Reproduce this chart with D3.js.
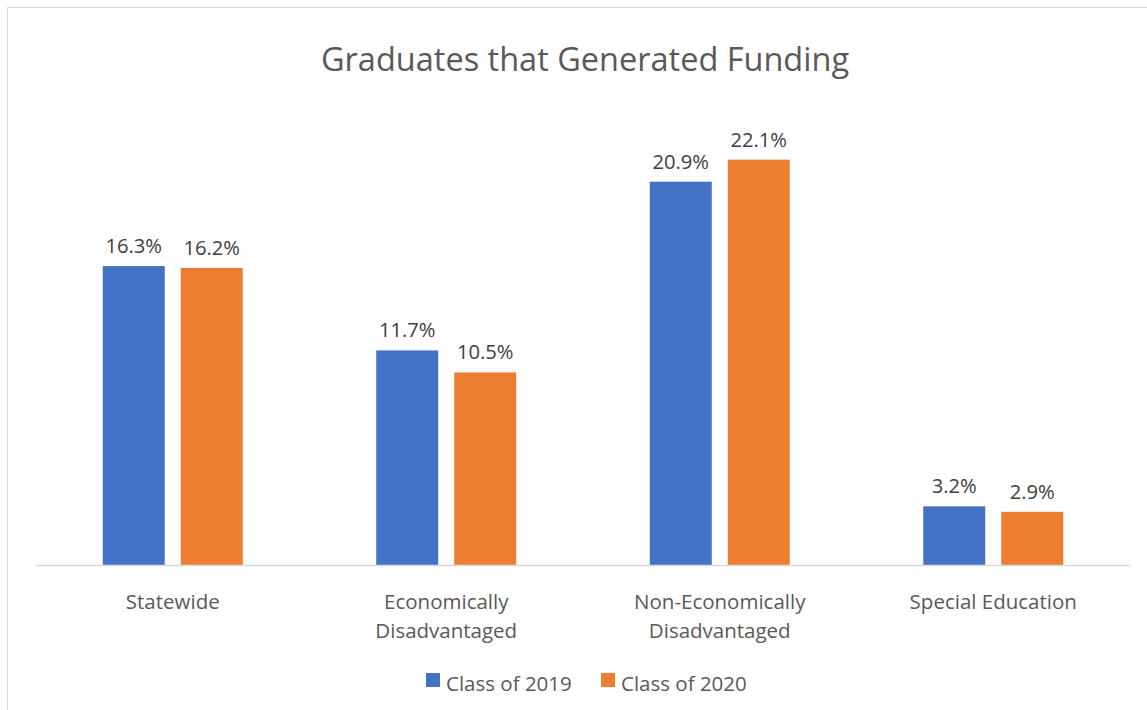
<!DOCTYPE html>
<html><head><meta charset="utf-8">
<script src="https://cdn.jsdelivr.net/npm/d3@7"></script>
<style>
html,body{margin:0;padding:0;background:#fff;}
svg{display:block;font-family:"Open Sans","Noto Sans",sans-serif;}
</style></head>
<body>
<svg id="chart" width="1147" height="710"></svg>
<script>
const title = "Graduates that Generated Funding";
const categories = [["Statewide"],["Economically","Disadvantaged"],["Non-Economically","Disadvantaged"],["Special Education"]];
const seriesNames = ["Class of 2019","Class of 2020"];
const class2019 = [16.3, 11.7, 20.9, 3.2];
const class2020 = [16.2, 10.5, 22.1, 2.9];
const colors = ["#4472C4","#ED7D31"];

(function(){
const svg = d3.select("#chart");
svg.append("rect").attr("x",7.5).attr("y",7.5).attr("width",1160).attr("height",720)
  .attr("fill","#fff").attr("stroke","#d9d9d9").attr("stroke-width",1);

const plotLeft = 36, plotRight = 1130, base = 565, plotTop = 106.5;
const x0 = d3.scaleBand().domain(d3.range(categories.length)).range([plotLeft,plotRight]).paddingInner(0).paddingOuter(0);
const x1 = d3.scaleBand().domain([0,1]).range([0,140]).paddingInner(16/78);
const y = d3.scaleLinear().domain([0,25]).range([base, plotTop]);
const series = [class2019, class2020];

svg.append("text").attr("x",585).attr("y",71).attr("text-anchor","middle")
  .attr("font-size",32.5).attr("fill","#595959").text(title);

const g = svg.append("g");
categories.forEach((c,i)=>{
  const gx = x0(i) + (x0.bandwidth()-140)/2;
  series.forEach((s,j)=>{
    const v = s[i];
    const bx = gx + x1(j);
    g.append("rect").attr("x",bx).attr("y",y(v)).attr("width",x1.bandwidth()).attr("height",base-y(v)).attr("fill",colors[j]);
    g.append("text").attr("x",bx+x1.bandwidth()/2).attr("y",y(v)-13).attr("text-anchor","middle")
      .attr("font-size",20.2).attr("fill","#404040").text(v.toFixed(1)+"%");
  });
  const t = g.append("text").attr("text-anchor","middle").attr("font-size",20.5).attr("fill","#595959");
  c.forEach((line,k)=>{
    t.append("tspan").attr("x",x0(i)+x0.bandwidth()/2).attr("y",609+k*29).text(line);
  });
});

svg.append("line").attr("x1",plotLeft).attr("x2",plotRight).attr("y1",base+0.5).attr("y2",base+0.5)
  .attr("stroke","#d9d9d9").attr("stroke-width",1.5);

const legX = [426, 601];
seriesNames.forEach((n,j)=>{
  svg.append("rect").attr("x",legX[j]).attr("y",673).attr("width",14).attr("height",14).attr("fill",colors[j]);
  svg.append("text").attr("x",legX[j]+20).attr("y",691).attr("font-size",20.5).attr("fill","#595959").text(n);
});
})();
</script>
</body></html>
